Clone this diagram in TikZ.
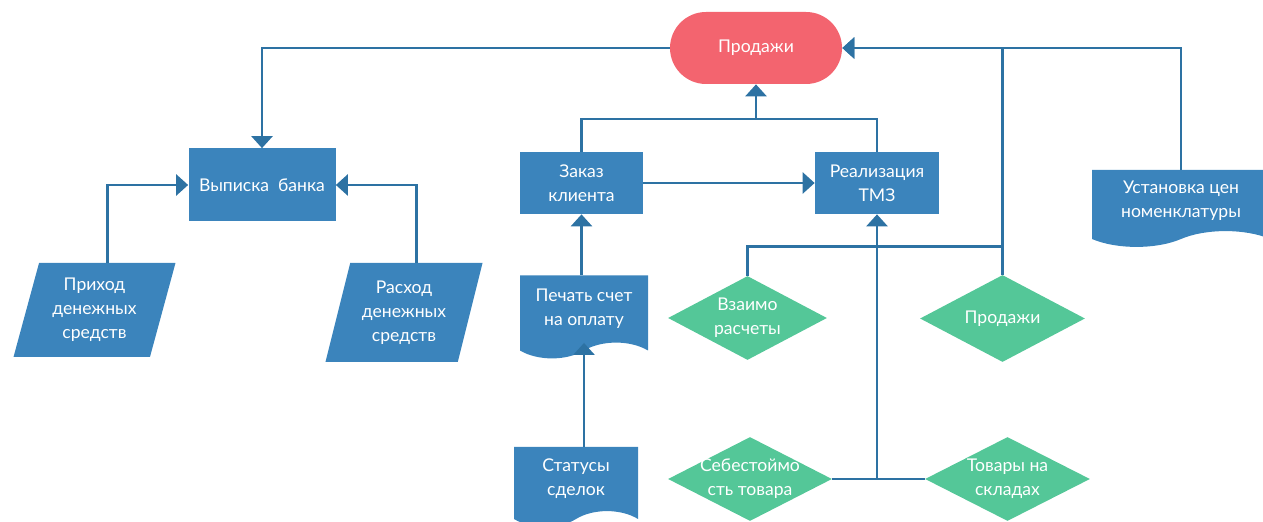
\documentclass[tikz,border=0pt]{standalone}
\usepackage{fontspec}
\setmainfont{Lato}
\usetikzlibrary{shapes.geometric, shapes.symbols, arrows.meta}
\definecolor{boxblue}{RGB}{59,132,188}
\definecolor{lineblue}{RGB}{45,114,163}
\definecolor{termred}{RGB}{243,100,111}
\definecolor{diagreen}{RGB}{84,199,152}
\tikzset{
	base/.style={font=\fontsize{10}{13.6}\selectfont, text=white, align=center, inner sep=0pt},
	procbox/.style={base, rectangle, fill=boxblue},
	termbox/.style={base, rectangle, rounded corners=0.72cm, fill=termred, minimum width=3.44cm, minimum height=1.44cm},
	databox/.style={base, trapezium, trapezium left angle=73, trapezium right angle=107, trapezium stretches=true, fill=boxblue},
	docbox/.style={base, tape, tape bend top=none, tape bend bottom=in and out, tape bend height=9pt, fill=boxblue},
	decbox/.style={base, diamond, aspect=2, inner sep=-0.1cm, fill=diagreen},
	link/.style={draw=lineblue, line width=1.5pt},
	arr/.style={link, -{Triangle[length=0.24cm, width=0.42cm]}}
}
\begin{document}
\begin{tikzpicture}
	\useasboundingbox (0,0) rectangle (25.26,10.42);

	\node[termbox] (prod) at (15.12,9.46) {Продажи};
	\node[procbox, minimum width=2.94cm, minimum height=1.46cm] (bank) at (5.24,6.72) {Выписка\ \ банка};
	\node[databox, minimum width=3.26cm, minimum height=1.88cm] (prihod) at (1.89,4.22) {Приход\\денежных\\средств};
	\node[databox, minimum width=3.16cm, minimum height=1.98cm] (rashod) at (8.08,4.17) {Расход\\денежных\\средств};
	\node[procbox, minimum width=2.46cm, minimum height=1.24cm] (zakaz) at (11.63,6.76) {Заказ\\клиента};
	\node[procbox, minimum width=2.48cm, minimum height=1.24cm] (real) at (17.54,6.76) {Реализация\\ТМЗ};
	\node[docbox, minimum width=2.56cm, minimum height=1.66cm] (pechat) at (11.68,4.24) {Печать счет\\на оплату};
	\node[docbox, minimum width=2.48cm, minimum height=1.6cm] (status) at (11.52,0.84) {Статусы\\сделок};
	\node[docbox, minimum width=3.56cm, minimum height=1.54cm] (ust) at (23.62,6.41) {Установка цен\\номенклатуры};
	\node[decbox, minimum width=3.18cm, minimum height=1.68cm] (vz) at (14.95,4.06) {Взаимо\\расчеты};
	\node[decbox, minimum width=3.3cm, minimum height=1.74cm] (diamP) at (20.05,4.05) {Продажи};
	\node[decbox, minimum width=3.28cm, minimum height=1.68cm] (seb) at (15.0,0.84) {Себестоймо\\сть товара};
	\node[decbox, minimum width=3.3cm, minimum height=1.68cm] (tov) at (20.15,0.84) {Товары на\\складах};
	\coordinate (mj) at (15.12,8.04);

	\draw[arr] (prod.west) -| (bank.north);
	\draw[arr] (prihod.top side) |- (bank.west);
	\draw[arr] (rashod.top side) |- (bank.east);
	\draw[arr] (ust.north) |- (prod.east);
	\draw[arr] (diamP.north) |- (prod.east);
	\draw[link] (vz.north) -- ++(0,0.58) -| (diamP.north);
	\draw[link] (zakaz.north) |- (mj) -| (real.north);
	\draw[arr] (mj) -- (prod.south);
	\draw[arr] (zakaz.east) -- (real.west);
	\draw[arr] (pechat.north -| zakaz.south) -- (zakaz.south);
	\draw[arr] (status.north -| pechat.south) -- (pechat.south);
	\draw[link] (seb.east) -- (tov.west);
	\draw[arr] (seb.east -| real.south) -- (real.south);
\end{tikzpicture}
\end{document}
